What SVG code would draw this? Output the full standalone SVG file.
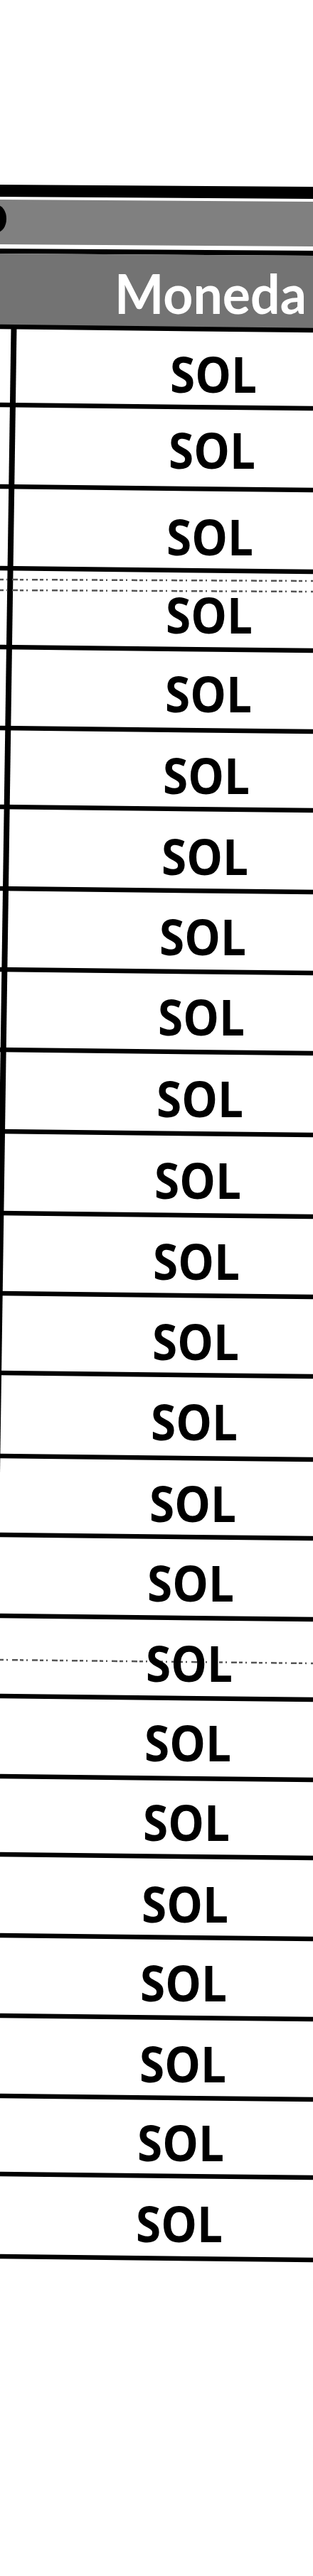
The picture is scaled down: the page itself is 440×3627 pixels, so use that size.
<svg xmlns="http://www.w3.org/2000/svg" width="440" height="3627" viewBox="0 0 440 3627">
<style>
.sol{font-family:"Open Sans","Liberation Sans",sans-serif;font-weight:bold;font-size:70px;fill:#000}
.hdr{font-family:Lato,"Liberation Sans",sans-serif;font-weight:bold;font-size:76px;fill:#fff}
.rule{stroke:#000;stroke-width:6.5;fill:none}
.noise{stroke:#555;stroke-width:2.5;stroke-dasharray:5 4 2 6 8 3;fill:none}
</style>
<rect width="440" height="3627" fill="#fff"/>
<g id="header">
<polygon points="0,260 440,263 440,280 0,277" fill="#000"/>
<polygon points="0,281 440,284 440,347 0,344" fill="#808080"/>
<ellipse cx="-4" cy="308" rx="13" ry="19" fill="#000"/>
<polygon points="0,350 440,353 440,360 0,357" fill="#000"/>
<polygon points="0,357 440,360 440,464 0,461" fill="#737373"/>
<text class="hdr" x="161" y="442" textLength="270" lengthAdjust="spacingAndGlyphs">Moneda</text>
</g>
<g id="grid">
<line class="rule" x1="19.5" y1="462" x2="-8" y2="2350" style="stroke-width:8"/>
<line class="rule" x1="0" y1="460" x2="440" y2="465"/>
<line class="rule" x1="0" y1="570" x2="440" y2="575"/>
<line class="rule" x1="0" y1="685" x2="440" y2="690"/>
<line class="rule" x1="0" y1="800" x2="440" y2="805"/>
<line class="rule" x1="0" y1="911" x2="440" y2="916"/>
<line class="rule" x1="0" y1="1025" x2="440" y2="1030"/>
<line class="rule" x1="0" y1="1136" x2="440" y2="1141"/>
<line class="rule" x1="0" y1="1251" x2="440" y2="1256"/>
<line class="rule" x1="0" y1="1365" x2="440" y2="1370"/>
<line class="rule" x1="0" y1="1478" x2="440" y2="1483"/>
<line class="rule" x1="0" y1="1593" x2="440" y2="1598"/>
<line class="rule" x1="0" y1="1708" x2="440" y2="1713"/>
<line class="rule" x1="0" y1="1821" x2="440" y2="1826"/>
<line class="rule" x1="0" y1="1933" x2="440" y2="1938"/>
<line class="rule" x1="0" y1="2050" x2="440" y2="2055"/>
<line class="rule" x1="0" y1="2161" x2="440" y2="2166"/>
<line class="rule" x1="0" y1="2275" x2="440" y2="2280"/>
<line class="rule" x1="0" y1="2388" x2="440" y2="2393"/>
<line class="rule" x1="0" y1="2501" x2="440" y2="2506"/>
<line class="rule" x1="0" y1="2611" x2="440" y2="2616"/>
<line class="rule" x1="0" y1="2725" x2="440" y2="2730"/>
<line class="rule" x1="0" y1="2838" x2="440" y2="2843"/>
<line class="rule" x1="0" y1="2951" x2="440" y2="2956"/>
<line class="rule" x1="0" y1="3061" x2="440" y2="3066"/>
<line class="rule" x1="0" y1="3177" x2="440" y2="3182"/>
<line class="noise" x1="0" y1="816" x2="440" y2="818"/>
<line class="noise" x1="0" y1="831" x2="440" y2="833"/>
<line class="noise" x1="0" y1="2337" x2="440" y2="2342"/>
</g>
<g id="rows">
<text id="r1" class="sol" x="239" y="553" textLength="122" lengthAdjust="spacingAndGlyphs">SOL</text>
<text id="r2" class="sol" x="237" y="660" textLength="122" lengthAdjust="spacingAndGlyphs">SOL</text>
<text id="r3" class="sol" x="234" y="782" textLength="122" lengthAdjust="spacingAndGlyphs">SOL</text>
<text id="r4" class="sol" x="233" y="892" textLength="122" lengthAdjust="spacingAndGlyphs">SOL</text>
<text id="r5" class="sol" x="232" y="1003" textLength="122" lengthAdjust="spacingAndGlyphs">SOL</text>
<text id="r6" class="sol" x="229" y="1118" textLength="122" lengthAdjust="spacingAndGlyphs">SOL</text>
<text id="r7" class="sol" x="227" y="1232" textLength="122" lengthAdjust="spacingAndGlyphs">SOL</text>
<text id="r8" class="sol" x="224" y="1345" textLength="122" lengthAdjust="spacingAndGlyphs">SOL</text>
<text id="r9" class="sol" x="222" y="1458" textLength="122" lengthAdjust="spacingAndGlyphs">SOL</text>
<text id="r10" class="sol" x="220" y="1573" textLength="122" lengthAdjust="spacingAndGlyphs">SOL</text>
<text id="r11" class="sol" x="217" y="1688" textLength="122" lengthAdjust="spacingAndGlyphs">SOL</text>
<text id="r12" class="sol" x="215" y="1802" textLength="122" lengthAdjust="spacingAndGlyphs">SOL</text>
<text id="r13" class="sol" x="214" y="1915" textLength="122" lengthAdjust="spacingAndGlyphs">SOL</text>
<text id="r14" class="sol" x="212" y="2028" textLength="122" lengthAdjust="spacingAndGlyphs">SOL</text>
<text id="r15" class="sol" x="210" y="2143" textLength="122" lengthAdjust="spacingAndGlyphs">SOL</text>
<text id="r16" class="sol" x="207" y="2255" textLength="122" lengthAdjust="spacingAndGlyphs">SOL</text>
<text id="r17" class="sol" x="205" y="2368" textLength="122" lengthAdjust="spacingAndGlyphs">SOL</text>
<text id="r18" class="sol" x="203" y="2480" textLength="122" lengthAdjust="spacingAndGlyphs">SOL</text>
<text id="r19" class="sol" x="201" y="2592" textLength="122" lengthAdjust="spacingAndGlyphs">SOL</text>
<text id="r20" class="sol" x="199" y="2707" textLength="122" lengthAdjust="spacingAndGlyphs">SOL</text>
<text id="r21" class="sol" x="197" y="2818" textLength="122" lengthAdjust="spacingAndGlyphs">SOL</text>
<text id="r22" class="sol" x="196" y="2932" textLength="122" lengthAdjust="spacingAndGlyphs">SOL</text>
<text id="r23" class="sol" x="193" y="3043" textLength="122" lengthAdjust="spacingAndGlyphs">SOL</text>
<text id="r24" class="sol" x="191" y="3157" textLength="122" lengthAdjust="spacingAndGlyphs">SOL</text>
</g>
</svg>
